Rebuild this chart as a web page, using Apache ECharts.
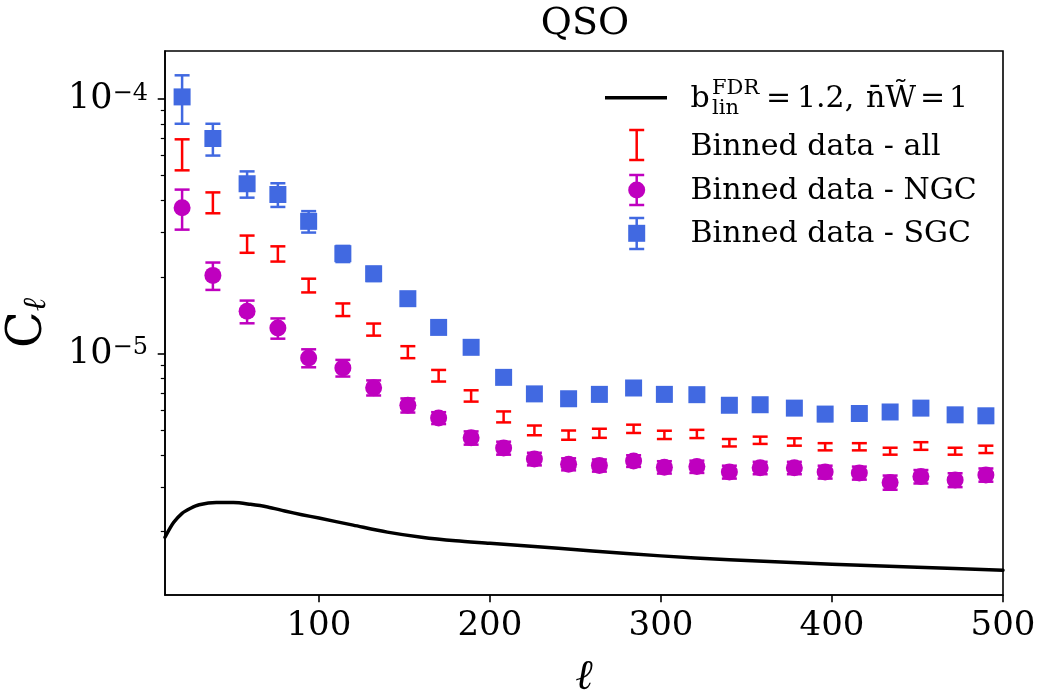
<!DOCTYPE html>
<html>
<head>
<meta charset="utf-8">
<script src="https://cdn.jsdelivr.net/npm/echarts@6/dist/echarts.min.js"></script>
<style>
html,body{margin:0;padding:0;background:#fff;}
#chart{width:1041px;height:694px;}
</style>
</head>
<body>
<div id="chart"></div>
<script>
// ---------------- data ----------------
const ellBins = [20,38,58,76,94,114,132,152,170,189,208,226,246,264,284,302,321,340,358,378,396,416,434,452,472,490];

const allVal = [6.1e-5,3.93e-5,2.70e-5,2.47e-5,1.855e-5,1.49e-5,1.245e-5,1.015e-5,8.2e-6,6.83e-6,5.65e-6,5.0e-6,4.79e-6,4.87e-6,5.07e-6,4.8e-6,4.84e-6,4.47e-6,4.57e-6,4.5e-6,4.31e-6,4.31e-6,4.14e-6,4.34e-6,4.14e-6,4.21e-6];
const allErr = [8.5e-6,3.7e-6,2.1e-6,1.7e-6,1.15e-6,8.5e-7,6.8e-7,5.5e-7,4.3e-7,3.5e-7,2.8e-7,2.2e-7,2.0e-7,2.0e-7,1.9e-7,1.8e-7,1.8e-7,1.5e-7,1.5e-7,1.5e-7,1.4e-7,1.4e-7,1.3e-7,1.5e-7,1.3e-7,1.4e-7];

const ngcVal = [3.74e-5,2.03e-5,1.466e-5,1.26e-5,9.62e-6,8.79e-6,7.35e-6,6.27e-6,5.59e-6,4.67e-6,4.26e-6,3.86e-6,3.68e-6,3.64e-6,3.79e-6,3.58e-6,3.60e-6,3.43e-6,3.56e-6,3.56e-6,3.43e-6,3.40e-6,3.12e-6,3.29e-6,3.19e-6,3.34e-6];
const ngcErr = [6.7e-6,2.5e-6,1.5e-6,1.15e-6,7.8e-7,6.6e-7,5.0e-7,4.0e-7,3.0e-7,2.8e-7,2.5e-7,2.2e-7,2.0e-7,2.0e-7,2.0e-7,2.0e-7,2.0e-7,2.0e-7,2.0e-7,2.0e-7,2.0e-7,2.0e-7,2.0e-7,2.0e-7,2.0e-7,2.0e-7];

const sgcVal = [1.02e-4,7.0e-5,4.65e-5,4.22e-5,3.31e-5,2.47e-5,2.06e-5,1.644e-5,1.268e-5,1.059e-5,8.07e-6,6.95e-6,6.65e-6,6.92e-6,7.33e-6,6.92e-6,6.90e-6,6.27e-6,6.30e-6,6.11e-6,5.79e-6,5.82e-6,5.90e-6,6.11e-6,5.75e-6,5.70e-6];
const sgcErr = [2.2e-5,1.0e-5,5.5e-6,4.5e-6,3.2e-6,1.8e-6,1.3e-6,9.0e-7,7.0e-7,5.5e-7,4.5e-7,4.0e-7,4.0e-7,4.0e-7,4.0e-7,4.0e-7,4.0e-7,3.5e-7,3.5e-7,3.5e-7,3.5e-7,3.5e-7,3.5e-7,3.5e-7,3.5e-7,3.5e-7];

const theoryEll = [10,15,20,25,30,40,50,60,70,80,90,100,120,140,160,180,200,240,280,320,360,400,450,500];
const theoryCl  = [1.90e-6,2.17e-6,2.36e-6,2.47e-6,2.55e-6,2.60e-6,2.60e-6,2.56e-6,2.50e-6,2.41e-6,2.33e-6,2.26e-6,2.12e-6,1.99e-6,1.90e-6,1.84e-6,1.80e-6,1.72e-6,1.64e-6,1.575e-6,1.53e-6,1.49e-6,1.45e-6,1.41e-6];

const xTicks = [100,200,300,400,500];
const yMajor = [1e-5,1e-4];
const yMinor = [2e-6,3e-6,4e-6,5e-6,6e-6,7e-6,8e-6,9e-6,2e-5,3e-5,4e-5,5e-5,6e-5,7e-5,8e-5,9e-5];

const titleText = 'QSO';
const legendNames = ['Binned data - all','Binned data - NGC','Binned data - SGC'];

// ---------------- styling ----------------
const SERIF = '"DejaVu Serif", "Liberation Serif", serif';
const RED = '#ff0000', MAG = '#bf00bf', BLUE = '#4169e1';
const X_MIN = 10, X_MAX = 500, Y_MIN = 1.127e-6, Y_MAX = 1.545e-4;
const EB_W = 2.5;

function errData(vals, errs){
  return ellBins.map((l,i)=>[l, vals[i]-errs[i], vals[i]+errs[i]]);
}
function errRender(color, capHalf, lw){
  return function(params, api){
    const x = api.value(0), lo = api.value(1), hi = api.value(2);
    const p1 = api.coord([x, hi]), p2 = api.coord([x, lo]);
    const st = {stroke: color, lineWidth: lw};
    return {type:'group', children:[
      {type:'line', shape:{x1:p1[0], y1:p1[1], x2:p2[0], y2:p2[1]}, style:st},
      {type:'line', shape:{x1:p1[0]-capHalf, y1:p1[1], x2:p1[0]+capHalf, y2:p1[1]}, style:st},
      {type:'line', shape:{x1:p2[0]-capHalf, y1:p2[1], x2:p2[0]+capHalf, y2:p2[1]}, style:st}
    ]};
  };
}

const chart = echarts.init(document.getElementById('chart'), null, {renderer:'canvas'});

const legendX = 636.7, textX = 690.5, FS = 30;
function errIcon(cx, y1, y2, color){
  return [
    {type:'line', shape:{x1:cx, y1:y1, x2:cx, y2:y2}, style:{stroke:color, lineWidth:EB_W}},
    {type:'line', shape:{x1:cx-7.5, y1:y1, x2:cx+7.5, y2:y1}, style:{stroke:color, lineWidth:EB_W}},
    {type:'line', shape:{x1:cx-7.5, y1:y2, x2:cx+7.5, y2:y2}, style:{stroke:color, lineWidth:EB_W}}
  ];
}
function txt(x, yMid, s, size, extra){
  return Object.assign({type:'text', x:x, y:yMid, style:{text:s, font: size+'px '+SERIF, fill:'#000', verticalAlign:'middle', align:'left'}}, extra||{});
}

const legendEls = [].concat(
  [{type:'line', shape:{x1:605, y1:97.7, x2:667, y2:97.7}, style:{stroke:'#000', lineWidth:3.5}}],
  [txt(textX, 108-0.3*FS, 'b', FS),
   txt(712, 115-0.3*21, 'lin', 21),
   txt(712, 95-0.3*21, 'FDR', 21),
   txt(766, 108-0.3*FS, '=', FS),
   txt(797, 108-0.3*FS, '1.2,', FS),
   txt(866, 108-0.3*FS, 'n\u0304W\u0303', FS),
   txt(920, 108-0.3*FS, '=', FS),
   txt(949, 108-0.3*FS, '1', FS)],
  errIcon(legendX, 130, 160, RED),
  [txt(textX, 156.7-0.3*FS, legendNames[0], FS)],
  errIcon(legendX, 175, 205, MAG),
  [{type:'circle', shape:{cx:legendX, cy:190, r:8.5}, style:{fill:MAG}}],
  [txt(textX, 200-0.3*FS, legendNames[1], FS)],
  errIcon(legendX, 218, 249, BLUE),
  [{type:'rect', shape:{x:legendX-8.5, y:233.3-8.5, width:17, height:17}, style:{fill:BLUE}}],
  [txt(textX, 243.3-0.3*FS, legendNames[2], FS)]
);

function yLabelFmt(v){
  const e = Math.round(Math.log10(v));
  if (Math.abs(v - Math.pow(10,e)) / Math.pow(10,e) > 1e-6) return '';
  return '{b|10}{s|\u2212' + Math.abs(e) + '}';
}

const option = {
  animation: false,
  backgroundColor: '#fff',
  title: {
    text: titleText, left: 585, top: 5, textAlign: 'center', padding: 0,
    textStyle: {fontFamily: SERIF, fontSize: 38, fontWeight: 'normal', color: '#000'}
  },
  grid: {left:165, right:38, top:51, bottom:99, show:true, borderColor:'#000', borderWidth:1.6,
         backgroundColor:'transparent', containLabel:false, outerBoundsMode:'none'},
  xAxis: {
    type:'value', min:X_MIN, max:X_MAX,
    name:'\u2113', nameLocation:'middle', nameGap:62,
    nameTextStyle:{fontFamily:SERIF, fontSize:42, fontStyle:'italic', color:'#000'},
    axisLine:{show:true, onZero:false, lineStyle:{color:'#000', width:1.6}},
    axisTick:{show:true, customValues:xTicks, length:7.3, lineStyle:{color:'#000', width:1.6}},
    axisLabel:{customValues:xTicks, margin:14, fontFamily:SERIF, fontSize:34, color:'#000'},
    splitLine:{show:false}
  },
  yAxis: [{
    type:'log', logBase:10, min:Y_MIN, max:Y_MAX,
    name:'{c|C}{l|\u2113}', nameLocation:'middle', nameGap:112, nameRotate:90,
    nameTextStyle:{
      rich:{
        c:{fontFamily:SERIF, fontSize:48, color:'#000', verticalAlign:'bottom'},
        l:{fontFamily:SERIF, fontSize:32, fontStyle:'italic', color:'#000', verticalAlign:'bottom'}
      }
    },
    axisLine:{show:true, onZero:false, lineStyle:{color:'#000', width:1.6}},
    axisTick:{show:true, customValues:yMajor, length:7.3, lineStyle:{color:'#000', width:1.6}},
    axisLabel:{customValues:yMajor, margin:17, formatter:yLabelFmt,
      rich:{
        b:{fontFamily:SERIF, fontSize:35, color:'#000', verticalAlign:'top'},
        s:{fontFamily:SERIF, fontSize:24, color:'#000', verticalAlign:'top'}
      }
    },
    splitLine:{show:false}
  },{
    type:'log', logBase:10, min:Y_MIN, max:Y_MAX, position:'left',
    axisLine:{show:false},
    axisTick:{show:true, customValues:yMinor, length:4.2, lineStyle:{color:'#000', width:1.2}},
    axisLabel:{show:false},
    splitLine:{show:false}
  }],
  graphic: legendEls,
  series: [
    {
      name:'theory', type:'line', data: theoryEll.map((l,i)=>[l, theoryCl[i]]),
      showSymbol:false, smooth:0.3,
      lineStyle:{color:'#000', width:3.5, cap:'round', join:'round'}, itemStyle:{color:'#000'}, z:2, clip:true
    },
    {
      name:legendNames[0], type:'custom', data: errData(allVal, allErr),
      renderItem: errRender(RED, 7.5, EB_W), encode:{x:0, y:[1,2]}, z:3
    },
    {
      name:legendNames[1]+' err', type:'custom', data: errData(ngcVal, ngcErr),
      renderItem: errRender(MAG, 7.5, EB_W), encode:{x:0, y:[1,2]}, z:4
    },
    {
      name:legendNames[1], type:'scatter', data: ellBins.map((l,i)=>[l, ngcVal[i]]),
      symbol:'circle', symbolSize:17, itemStyle:{color:MAG, opacity:1}, z:5
    },
    {
      name:legendNames[2]+' err', type:'custom', data: errData(sgcVal, sgcErr),
      renderItem: errRender(BLUE, 7.5, EB_W), encode:{x:0, y:[1,2]}, z:6
    },
    {
      name:legendNames[2], type:'scatter', data: ellBins.map((l,i)=>[l, sgcVal[i]]),
      symbol:'rect', symbolSize:17, itemStyle:{color:BLUE, opacity:1}, z:7
    }
  ]
};
chart.setOption(option);
</script>
</body>
</html>
